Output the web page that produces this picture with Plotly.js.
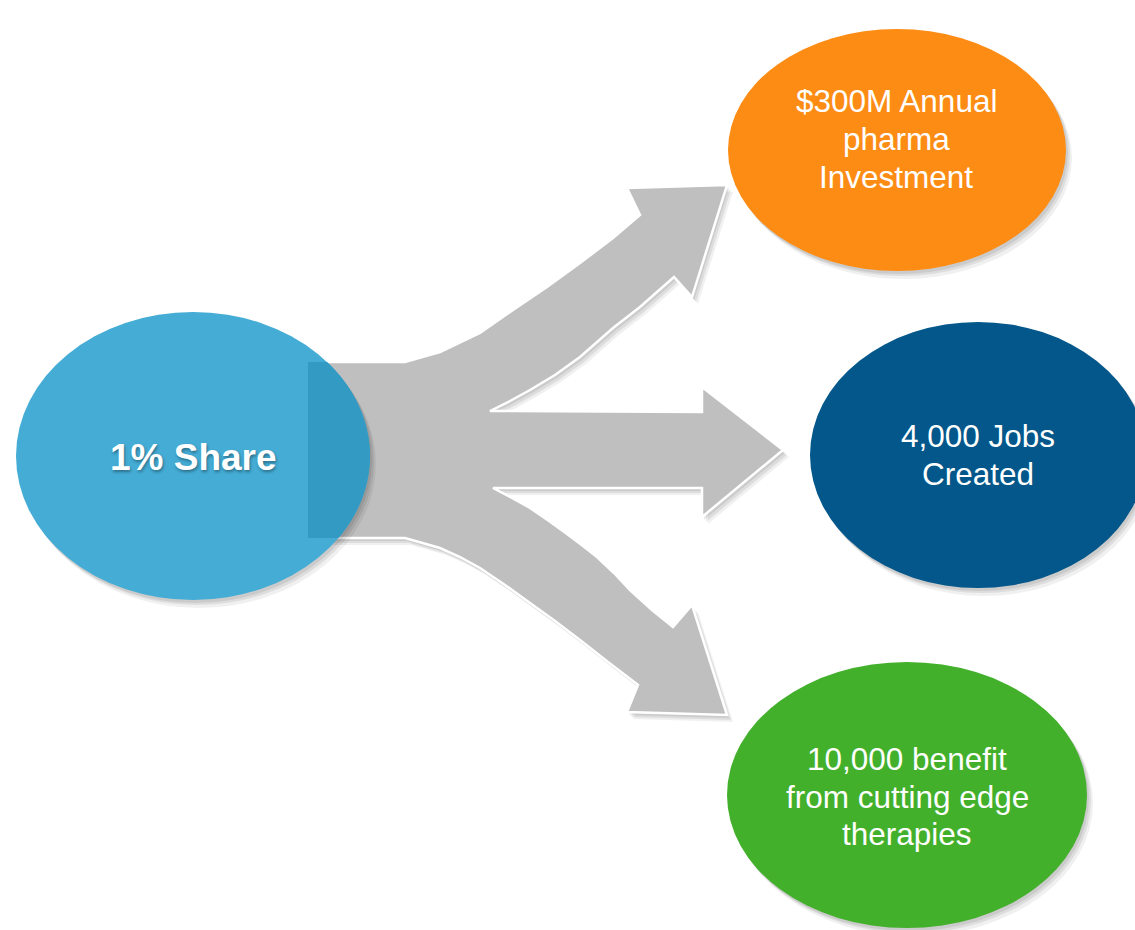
<!DOCTYPE html>
<html>
<head>
<meta charset="utf-8">
<script src="https://cdn.plot.ly/plotly-3.0.1.min.js"></script>
<style>
  html, body { margin: 0; padding: 0; background: #ffffff; }
  #chart { width: 1135px; height: 930px; }
</style>
</head>
<body>
<div id="chart"></div>
<script>
// ---- content ----
var sourceLabel = "1% Share";
var outcomeLabels = [
  "$300M Annual<br>pharma<br>Investment",
  "4,000 Jobs<br>Created",
  "10,000 benefit<br>from cutting edge<br>therapies"
];

// ---- layout geometry (pixel-like coordinates, y downward) ----
var W = 1135, H = 930;
var nodes = [
  { cx: 193, cy: 456, rx: 177, ry: 144, color: "#44acd5", text: sourceLabel, bold: true, size: 37 },
  { cx: 897, cy: 150, rx: 169, ry: 121, color: "#fd8c15", text: outcomeLabels[0], size: 31.5 },
  { cx: 978, cy: 455, rx: 168, ry: 133, color: "#03578a", text: outcomeLabels[1], size: 31.5 },
  { cx: 907, cy: 795, rx: 180, ry: 133, color: "#43b02c", text: outcomeLabels[2], size: 31.5 }
];
var textCenters = [
  { x: 193, y: [457] },
  { x: 896, y: [101, 139, 177] },
  { x: 978, y: [436, 474] },
  { x: 907, y: [759, 797, 834] }
];

// arrow outline
var arrowPts = [
  [308,362],[405,362],[440,352],[480,333],[513,310],[547,287],[580,263],[613,238],[640,215],
  [627,188],[727,185],[692,297],[674,277],
  [657,292],[640,307],[613,328],[580,357],[555,375],[530,390],[510,401],[490,411],
  [702,412],[702,387],[783,450],[702,517],[702,488],[493,488],
  [512,498],[530,508],[549,521],[567,534],[583,546],[597,557],[614,573],[630,590],[652,610],[673,627],
  [692,605],[727,715],[627,712],[638,685],
  [608,662],[580,640],[555,621],[530,603],[505,585],[480,568],[460,557],[440,548],[405,538],[308,538]
];

function polyPath(pts, dx, dy) {
  dx = dx || 0; dy = dy || 0;
  return pts.map(function (p, i) { return (i ? "L" : "M") + (p[0] + dx) + "," + (p[1] + dy); }).join(" ") + " Z";
}

var shapes = [];
// arrow shadow (soft, layered)
[[6, 7, 0.06], [4, 5, 0.08], [2, 3, 0.08]].forEach(function (s) {
  shapes.push({ type: "path", xref: "x", yref: "y", path: polyPath(arrowPts, s[0], s[1]),
    fillcolor: "rgba(0,0,0," + s[2] + ")", line: { width: 0 } });
});
// arrow
shapes.push({ type: "path", xref: "x", yref: "y", path: polyPath(arrowPts),
  fillcolor: "#bfbfbf", line: { color: "#ffffff", width: 2.5 } });

// ellipses with shadows
nodes.forEach(function (n) {
  [[6, 8, 0.06], [4, 5, 0.08], [2, 3, 0.08]].forEach(function (s) {
    shapes.push({ type: "circle", xref: "x", yref: "y",
      x0: n.cx - n.rx + s[0], x1: n.cx + n.rx + s[0], y0: n.cy - n.ry + s[1], y1: n.cy + n.ry + s[1],
      fillcolor: "rgba(0,0,0," + s[2] + ")", line: { width: 0 } });
  });
  shapes.push({ type: "circle", xref: "x", yref: "y",
    x0: n.cx - n.rx, x1: n.cx + n.rx, y0: n.cy - n.ry, y1: n.cy + n.ry,
    fillcolor: n.color, line: { width: 0 } });
});

// overlap of arrow stem within source ellipse (darker)
(function () {
  var n = nodes[0], yTop = 362, yBot = 538, x0 = 308, pts = [[x0, yTop]];
  for (var y = yTop; y <= yBot; y += 4) {
    var t = (y - n.cy) / n.ry;
    pts.push([n.cx + n.rx * Math.sqrt(Math.max(0, 1 - t * t)), y]);
  }
  var tb = (yBot - n.cy) / n.ry;
  pts.push([n.cx + n.rx * Math.sqrt(1 - tb * tb), yBot]);
  pts.push([x0, yBot]);
  shapes.push({ type: "path", xref: "x", yref: "y", path: polyPath(pts),
    fillcolor: "#339ac4", line: { width: 0 } });
})();

// text annotations (one per line)
var annotations = [];
nodes.forEach(function (n, i) {
  var lines = n.text.split("<br>");
  lines.forEach(function (ln, j) {
    annotations.push({
      xref: "x", yref: "y", x: textCenters[i].x, y: textCenters[i].y[j],
      text: n.bold ? "<b>" + ln + "</b>" : ln,
      showarrow: false, xanchor: "center", yanchor: "middle",
      font: { family: "Liberation Sans, Arial, sans-serif", size: n.size, color: "#ffffff",
        shadow: n.bold ? "1px 2px 3px rgba(0,0,0,0.35)" : "none" }
    });
  });
});

var layout = {
  width: W, height: H,
  margin: { l: 0, r: 0, t: 0, b: 0 },
  paper_bgcolor: "#ffffff", plot_bgcolor: "#ffffff",
  xaxis: { range: [0, W], visible: false, fixedrange: true },
  yaxis: { range: [H, 0], visible: false, fixedrange: true },
  shapes: shapes,
  annotations: annotations,
  showlegend: false
};

Plotly.newPlot("chart", [{ type: "scatter", x: [], y: [], hoverinfo: "skip" }], layout,
  { displayModeBar: false, staticPlot: true });
</script>
</body>
</html>
